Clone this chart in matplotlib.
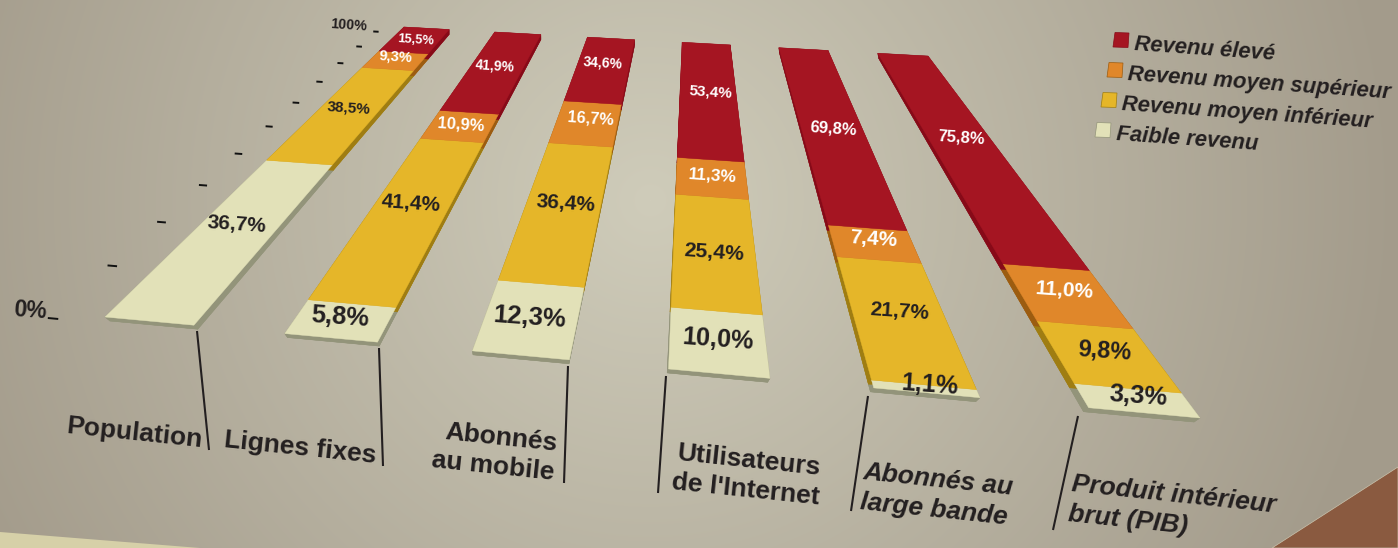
import numpy as np
import matplotlib
matplotlib.use("Agg")
import matplotlib.pyplot as plt
import matplotlib.transforms as mtransforms
from matplotlib.patches import Polygon

plt.rcParams["font.family"] = "Liberation Sans"

# ── Données ───────────────────────────────────────────
categories = ["Population", "Lignes fixes", "Abonnés\nau mobile",
              "Utilisateurs\nde l'Internet", "Abonnés au\nlarge bande",
              "Produit intérieur\nbrut (PIB)"]
series_names = ["Faible revenu", "Revenu moyen inférieur",
                "Revenu moyen supérieur", "Revenu élevé"]
faible = [36.7, 5.8, 12.3, 10.0, 1.1, 3.3]
moyen_inf = [38.5, 41.4, 36.4, 25.4, 21.7, 9.8]
moyen_sup = [9.3, 10.9, 16.7, 11.3, 7.4, 11.0]
eleve = [15.5, 41.9, 34.6, 53.4, 69.8, 75.8]
ticks = [0, 10, 20, 30, 40, 50, 60, 70, 80, 90, 100]

# ── Style ─────────────────────────────────────────────
TOP = ["#E2E1B8", "#E5B629", "#E0872A", "#A51522"]
SIDE = ["#93947A", "#9F7D12", "#9C5C10", "#870A18"]
TXT = ["#231F20", "#231F20", "#FFFFFF", "#FFFFFF"]
DARK = "#231F20"
HALF = 0.25

# tailles des étiquettes, une ligne par catégorie
label_sizes = [[15, 11, 10.5, 9.3], [18.4, 15, 12, 10], [18.5, 15, 11.7, 10],
               [18.2, 15.2, 12.5, 11], [18, 15, 15, 12], [18.4, 16.8, 15, 12]]
# décalages à la main (points) : (catégorie, série) -> dx, dy
label_shift = {(0, 1): (0, -1.5), (0, 3): (0, -3),
               (1, 0): (-1, -0.5), (1, 2): (0, -2), (1, 3): (-1, -1.5),
               (2, 0): (-1, -3), (2, 1): (1.5, -3), (2, 2): (2.5, 0),
               (3, 0): (0, -2), (3, 1): (0, -6.5), (3, 2): (1, -1.5), (3, 3): (1.5, -3),
               (4, 0): (3, 0), (4, 3): (4, -10.5),
               (5, 0): (2, 0), (5, 3): (4, -6)}

W, H = 1398, 548


def homography(src, dst):
    rows, rhs = [], []
    for (x, y), (u, v) in zip(src, dst):
        rows.append([x, y, 1, 0, 0, 0, -u * x, -u * y])
        rows.append([0, 0, 0, x, y, 1, -v * x, -v * y])
        rhs += [u, v]
    return np.append(np.linalg.solve(np.array(rows, float), np.array(rhs, float)), 1).reshape(3, 3)


class Perspective(mtransforms.Transform):
    input_dims = 2
    output_dims = 2

    def __init__(self, matrix):
        super().__init__()
        self.matrix = matrix

    def transform_non_affine(self, values):
        values = np.asarray(values, float)
        p = np.column_stack([values, np.ones(len(values))]) @ self.matrix.T
        return p[:, :2] / p[:, 2:]


plane = [(-HALF, 0), (5 + HALF, 0), (5 + HALF, 100), (-HALF, 100)]
upper = Perspective(homography(plane, [(105, 317), (1200, 418), (928, 56), (404, 27)]))
lower = Perspective(homography(plane, [(110, 321), (1194, 422), (929, 61), (404, 32)]))

fig = plt.figure(figsize=(W / 100, H / 100), dpi=100)
ax = fig.add_axes([0, 0, 1, 1])

# ── Fond ──────────────────────────────────────────────
yy, xx = np.mgrid[0:H, 0:W]
t = np.clip(np.sqrt(((xx - 650) / 750) ** 2 + ((yy - 200) / 750) ** 2), 0, 1)[..., None]
bg = (np.array([207, 204, 186]) * (1 - t) + np.array([163, 155, 139]) * t) / 255
ax.imshow(bg, extent=(0, W, H, 0), aspect="auto", zorder=0)
ax.add_patch(Polygon([(1272, 548), (1398, 467), (1398, 548)], fc="#8A5A40", ec="#C9C3AE", lw=0.5, zorder=1))
ax.add_patch(Polygon([(0, 532), (200, 548), (0, 548)], fc="#D6D0A8", ec="none", zorder=1))
ax.set_xlim(0, W)
ax.set_ylim(H, 0)
ax.axis("off")

up = upper + ax.transData
low = lower + ax.transData

# ── Barres empilées ───────────────────────────────────
values = np.array([faible, moyen_inf, moyen_sup, eleve])
bases = np.vstack([np.zeros(6), np.cumsum(values, axis=0)[:-1]])

for i in range(6):
    x0, x1 = i - HALF, i + HALF
    for s in range(4):
        b, e = bases[s, i], bases[s, i] + values[s, i]
        quad = [(x0, b), (x1, b), (x1, e), (x0, e)]
        for xs in (x0, x1):
            pts = np.vstack([upper.transform([(xs, b), (xs, e)]),
                             lower.transform([(xs, e), (xs, b)])])
            ax.add_patch(Polygon(pts, fc=SIDE[s], ec=SIDE[s], lw=0.3, zorder=2))
        ax.add_patch(Polygon(quad, transform=low, fc=SIDE[s], ec=SIDE[s], lw=0.3, zorder=2))
    # tranche avant et arrière
    for yv, s in ((0, 0), (100, 3)):
        pts = np.vstack([upper.transform([(x0, yv), (x1, yv)]),
                         lower.transform([(x1, yv), (x0, yv)])])
        ax.add_patch(Polygon(pts, fc=SIDE[s], ec=SIDE[s], lw=0.3, zorder=2))
    for s in range(4):
        b, e = bases[s, i], bases[s, i] + values[s, i]
        ax.add_patch(Polygon([(x0, b), (x1, b), (x1, e), (x0, e)], transform=up,
                             fc=TOP[s], ec=TOP[s], lw=0.3, zorder=3))
        txt = f"{values[s, i]:.1f}%".replace(".", ",")
        dx, dy = label_shift.get((i, s), (0, 0))
        ax.annotate(txt, xy=(i, (b + e) / 2), xycoords=up, xytext=(dx, 3 + dy),
                    textcoords="offset points", ha="center", va="center",
                    rotation=-4, fontsize=label_sizes[i][s], fontweight="bold",
                    color=TXT[s], zorder=4)

# ── Graduations ───────────────────────────────────────
tick_tr = upper + mtransforms.Affine2D().translate(-3, 6) + ax.transData
for v in ticks:
    ax.plot([-0.56, -0.50], [v, v], transform=tick_tr, color="#111111", lw=1.4,
            solid_capstyle="butt", zorder=2)
ax.annotate("0%", xy=(-0.56, 0), xycoords=tick_tr, xytext=(0, 5), textcoords="offset points",
            ha="right", va="center", rotation=-4, fontsize=16.5, fontweight="bold", color=DARK)
ax.annotate("100%", xy=(-0.56, 100), xycoords=tick_tr, xytext=(-4, 4.5), textcoords="offset points",
            ha="right", va="center", rotation=-4, fontsize=10.3, fontweight="bold", color=DARK)

# ── Catégories ────────────────────────────────────────
leaders = [((197, 331), (209, 450)), ((379, 348), (383, 466)), ((568, 366), (564, 483)),
           ((666, 376), (658, 493)), ((868, 396), (851, 511)), ((1078, 416), (1053, 530))]
label_pos = [(134, 433), (300, 448), (495, 452), (747, 475), (937, 495), (1172, 510)]
label_align = ["center", "center", "right", "center", "left", "left"]
label_style = ["normal", "normal", "normal", "normal", "italic", "italic"]

for i, name in enumerate(categories):
    (xa, ya), (xb, yb) = leaders[i]
    ax.plot([xa, xb], [ya, yb], color=DARK, lw=1.5, solid_capstyle="butt", zorder=2)
    ax.text(*label_pos[i], name, ha="center", va="center", ma=label_align[i], rotation=-6,
            fontsize=19, fontweight="bold", fontstyle=label_style[i], color=DARK,
            linespacing=1.3, zorder=4)

# ── Légende ───────────────────────────────────────────
for k, s in enumerate([3, 2, 1, 0]):
    cx, cy = 1121 - 6 * k, 40 + 30 * k
    ax.add_patch(Polygon([(cx - 8, cy + 7), (cx + 7, cy + 7.5), (cx + 8, cy - 7), (cx - 6, cy - 7.5)],
                         fc=TOP[s], ec=SIDE[s], lw=0.5, zorder=3))
    ax.text(cx + 13, cy + 4.5, series_names[s], ha="left", va="center", rotation=-4,
            rotation_mode="anchor", fontsize=15.8, fontweight="bold", fontstyle="italic", color=DARK)

fig.savefig("out.png", dpi=100)
